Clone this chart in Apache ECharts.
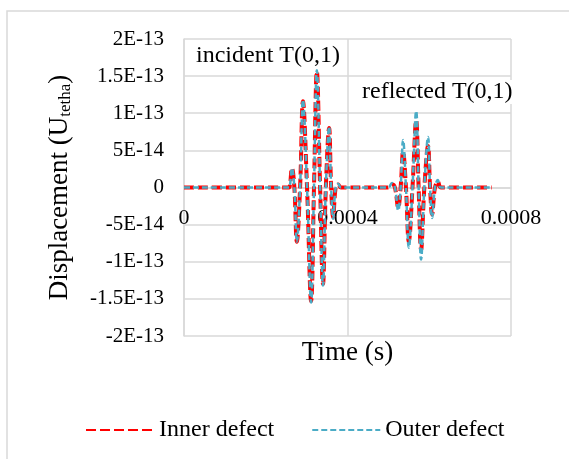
<!DOCTYPE html>
<html>
<head>
<meta charset="utf-8">
<script src="https://cdn.jsdelivr.net/npm/echarts@6/dist/echarts.min.js"></script>
<style>
  html, body { margin: 0; padding: 0; background: #fff; }
  #chart { width: 569px; height: 459px; }
</style>
</head>
<body>
<div id="chart"></div>
<script>
  // time (s) and displacement
  const time = [0, 0.000252, 0.000257, 0.000264, 0.000270, 0.000276, 0.000284, 0.000291, 0.000301, 0.000311,
    0.000318, 0.000325, 0.000333, 0.000340, 0.000347, 0.000355, 0.000360, 0.000365, 0.000371, 0.000377,
    0.000384, 0.000499, 0.000509, 0.000516, 0.000524, 0.000530, 0.000536, 0.000543, 0.000550, 0.000559,
    0.000568, 0.000574, 0.000580, 0.000588, 0.000597, 0.000602, 0.000607, 0.000614, 0.000621, 0.000629,
    0.000753];
  const inner = [0, 0, 0, 2.6e-14, 0, -7.3e-14, 0, 1.16e-13, 0, -1.53e-13,
    0, 1.56e-13, 0, -1.3e-13, 0, 8.0e-14, 0, -4.0e-14, 0, 4e-15,
    0, 0, 4e-15, 0, -2.7e-14, 0, 4.8e-14, 0, -7.3e-14, 0,
    9.0e-14, 0, -8.4e-14, 0, 5.6e-14, 0, -3.6e-14, 0, 8e-15, 0,
    0];
  const outer = [0, 0, 0, 2.6e-14, 0, -7.3e-14, 0, 1.18e-13, 0, -1.55e-13,
    0, 1.58e-13, 0, -1.32e-13, 0, 8.2e-14, 0, -4.2e-14, 0, 5e-15,
    0, 0, 6e-15, 0, -3.1e-14, 0, 6.4e-14, 0, -8.1e-14, 0,
    1.03e-13, 0, -9.7e-14, 0, 6.8e-14, 0, -4.1e-14, 0, 1e-14, 0,
    0];
  const xTicks = [0, 0.0004, 0.0008];
  const yTicks = [-2e-13, 2e-13, 5e-14];

  const font = '"Liberation Serif", "Times New Roman", serif';

  function excelSci(v) {
    if (Math.abs(v) < 1e-20) return '0';
    let e = Math.floor(Math.log10(Math.abs(v)) + 1e-9);
    let m = Math.round(v / Math.pow(10, e) * 100) / 100;
    return m + 'E' + e;
  }

  // plot box: top 39, bottom 336 -> the zero line sits half way
  const plotTop = 39, plotBottom = 336;
  const zeroShift = (plotBottom - plotTop) / 2;

  let myChart = echarts.init(document.getElementById('chart'));
  myChart.setOption({
    animation: false,
    textStyle: { fontFamily: font },
    grid: { left: 184, right: 58, top: plotTop, bottom: 459 - plotBottom, containLabel: false, outerBoundsMode: 'none' },
    legend: {
      left: 80,
      top: 413,
      itemWidth: 68,
      itemHeight: 14,
      itemGap: 37,
      itemStyle: { opacity: 0 },
      textStyle: { fontFamily: font, fontSize: 24, color: '#000' },
      data: ['Inner defect', 'Outer defect']
    },
    xAxis: {
      type: 'value',
      min: xTicks[0],
      max: xTicks[2],
      interval: xTicks[1],
      offset: -zeroShift,
      name: 'Time (s)',
      nameLocation: 'middle',
      nameGap: 152,
      nameTextStyle: { fontFamily: font, fontSize: 27, color: '#000' },
      axisLine: { onZero: false, lineStyle: { color: '#D9D9D9', width: 1.5 } },
      axisTick: { show: false },
      axisLabel: {
        fontFamily: font, fontSize: 22, color: '#000', margin: 20,
        formatter: v => String(+v.toFixed(6))
      },
      splitLine: { show: true, lineStyle: { color: '#D9D9D9', width: 1.5 } }
    },
    yAxis: {
      type: 'value',
      min: yTicks[0],
      max: yTicks[1],
      interval: yTicks[2],
      name: '{a|Displacement (U}{b|tetha}{a|)}',
      nameLocation: 'middle',
      nameRotate: 90,
      nameGap: 110,
      nameTextStyle: {
        rich: {
          a: { fontFamily: font, fontSize: 27, color: '#000' },
          b: { fontFamily: font, fontSize: 17, color: '#000', padding: [12, 0, 0, 0] }
        }
      },
      axisLine: { show: true, onZero: false, lineStyle: { color: '#D9D9D9', width: 1.5 } },
      axisTick: { show: false },
      axisLabel: { fontFamily: font, fontSize: 21, color: '#000', margin: 20, formatter: excelSci },
      splitLine: { lineStyle: { color: '#D9D9D9', width: 1.5 } }
    },
    graphic: [
      {
        type: 'rect', silent: true, z: -1,
        shape: { x: 7, y: 11, width: 700, height: 600 },
        style: { fill: 'none', stroke: '#D9D9D9', lineWidth: 1.5 }
      },
      {
        type: 'text', left: 194, top: 44, z: 100,
        style: { text: 'incident T(0,1)', font: '24px ' + font, fill: '#000', backgroundColor: '#fff', padding: [0, 2] }
      },
      {
        type: 'text', left: 361, top: 80, z: 100,
        style: { text: 'reflected T(0,1)', font: '24px ' + font, fill: '#000', backgroundColor: '#fff', padding: [0, 1] }
      }
    ],
    series: [
      {
        name: 'Inner defect',
        type: 'line',
        symbol: 'none',
        smooth: 0.4,
        color: '#FF0000',
        lineStyle: { width: 4, type: [10, 4] },
        data: time.map((t, i) => [t, inner[i]])
      },
      {
        name: 'Outer defect',
        type: 'line',
        symbol: 'none',
        smooth: 0.4,
        color: '#4BACC6',
        lineStyle: { width: 2.5, type: [6, 3] },
        data: time.map((t, i) => [t, outer[i]])
      }
    ]
  });
</script>
</body>
</html>
